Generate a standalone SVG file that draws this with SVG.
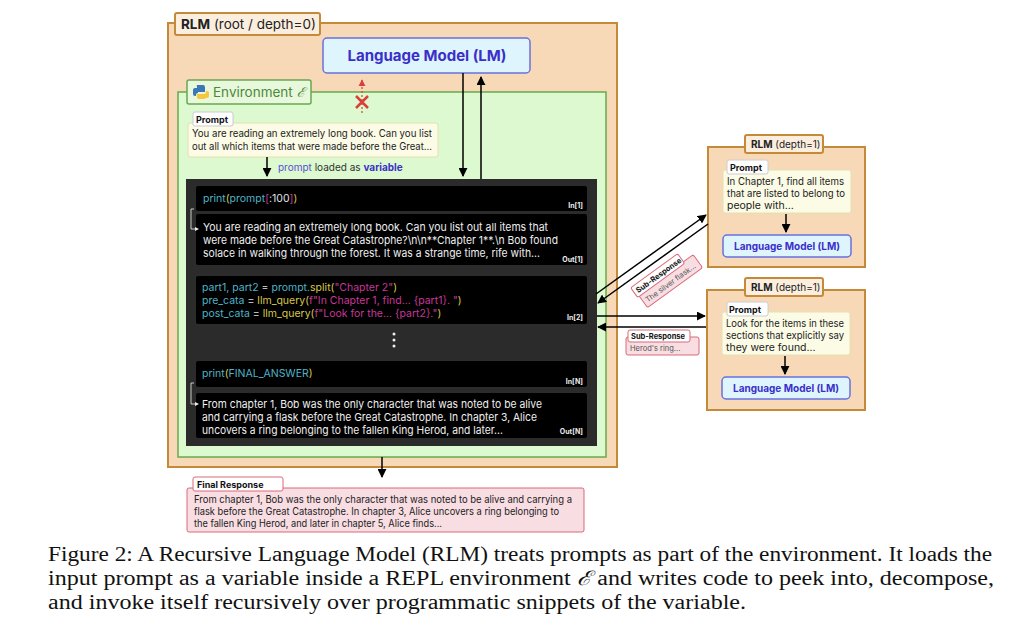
<svg xmlns="http://www.w3.org/2000/svg" width="1024" height="637" viewBox="0 0 1024 637">
<defs>
<marker id="ah" viewBox="0 0 10 10" refX="9" refY="5" markerWidth="6" markerHeight="6" orient="auto-start-reverse"><path d="M0,0 L10,5 L0,10 z" fill="#000"/></marker>
<marker id="ahr" viewBox="0 0 10 10" refX="9" refY="5" markerWidth="6" markerHeight="6" orient="auto"><path d="M0,0 L10,5 L0,10 z" fill="#d9403a"/></marker>
</defs>
<style>
text{font-family:Inter,"Liberation Sans",sans-serif}
.rlm{fill:#f7d9b7;stroke:#c48a3a;stroke-width:2}
.tab{fill:#fbeede;stroke:#c48a3a;stroke-width:2}
.lm{fill:#dff5fd;stroke:#6a6fe0;stroke-width:1.5}
.lmt{fill:#3b2fc9;font-weight:bold;text-anchor:middle}
.pr{fill:#fbfbe6;stroke:#e4e0b0;stroke-width:1}
.ptab{fill:#fff;stroke:#ccc;stroke-width:1}
.b{font-weight:bold;fill:#111}
.t{fill:#222;font-size:10.5px}
.cell{fill:#000}
.w{fill:#eee;font-size:11px}
.lbl{fill:#eee;font-size:7px;font-weight:bold;text-anchor:end}
.code{font-size:10.5px}
.c1{fill:#4fb3c8}.c2{fill:#d8c74a}.c3{fill:#c8379a}.c4{fill:#e0e0e0}
.pk{fill:#f8dde2;stroke:#d96a78;stroke-width:1}
.line{stroke:#000;stroke-width:1.5;fill:none}
.cap{font-family:"Liberation Serif",serif;font-size:20px;fill:#111}
</style>
<g id="root">
<rect class="rlm" x="168" y="23" width="449" height="444"/>
<rect class="tab" x="175" y="13" width="145" height="22" rx="2"/>
<text x="181" y="29" font-size="13.5" fill="#222"><tspan font-weight="bold">RLM</tspan> (root / depth=0)</text>
</g>
<g id="lm-root">
<rect class="lm" x="323" y="38" width="207" height="35" rx="4"/>
<text class="lmt" x="427" y="61" font-size="15">Language Model (LM)</text>
</g>
<g id="environment">
<rect x="178" y="92" width="428" height="365" fill="#dcf9cf" stroke="#6aa84f" stroke-width="1.5"/>
<rect x="187" y="80" width="124" height="24" fill="#e8f8dd" stroke="#6aa84f" stroke-width="1.5" rx="2"/>
<g transform="translate(193,84)">
<path d="M4,1 h6 a2,2 0 0 1 2,2 v5 h-7 v1 h-0 a2,2 0 0 0 -2,2 v1 h-1 a2,2 0 0 1 -2,-2 v-4 a2,2 0 0 1 2,-2 h2 v-1 a2,2 0 0 1 0,-2z" fill="#3c78b5"/>
<path d="M12,15 h-6 a2,2 0 0 1 -2,-2 v-3 h7 a2,2 0 0 0 2,-2 v-1 h1 a2,2 0 0 1 2,2 v3 a2,2 0 0 1 -2,2 h-2z" fill="#f5c83a"/>
</g>
<text x="213" y="97" font-size="13.5" fill="#4c8a3a">Environment <tspan font-style="italic" font-family="Liberation Serif,serif">ℰ</tspan></text>
</g>
<g id="prompt">
<rect class="pr" x="188" y="123" width="250" height="34" rx="2"/>
<rect class="ptab" x="193" y="112" width="40" height="14" rx="2"/>
<text class="b" x="196" y="123" font-size="9">Prompt</text>
<text class="t" x="192" y="137" textLength="240" lengthAdjust="spacingAndGlyphs">You are reading an extremely long book. Can you list</text>
<text class="t" x="192" y="150" textLength="240" lengthAdjust="spacingAndGlyphs">out all which items that were made before the Great...</text>
<text x="278" y="171" font-size="10" fill="#333"><tspan fill="#5a4fd6">prompt</tspan> loaded as <tspan fill="#3b2fc9" font-weight="bold">variable</tspan></text>
</g>
<g id="repl">
<rect x="186" y="179" width="411" height="267" fill="#2b2b2b"/>
<rect class="cell" x="196" y="186" width="391" height="25" rx="2"/>
<text class="code" x="203" y="202"><tspan class="c1">print</tspan><tspan class="c2">(</tspan><tspan class="c1">prompt</tspan><tspan class="c3">[</tspan><tspan class="c4">:100</tspan><tspan class="c3">]</tspan><tspan class="c2">)</tspan></text>
<text class="lbl" x="583" y="208">In[1]</text>
<rect class="cell" x="196" y="214" width="391" height="51" rx="2"/>
<text class="w" x="203" y="231" textLength="345" lengthAdjust="spacingAndGlyphs">You are reading an extremely long book. Can you list out all items that</text>
<text class="w" x="203" y="244" textLength="355" lengthAdjust="spacingAndGlyphs">were made before the Great Catastrophe?\n\n**Chapter 1**.\n Bob found</text>
<text class="w" x="203" y="257" textLength="337" lengthAdjust="spacingAndGlyphs">solace in walking through the forest. It was a strange time, rife with...</text>
<text class="lbl" x="583" y="262">Out[1]</text>
<path d="M194,209 h-3 v20 h6" stroke="#ccc" fill="none"/>
<path d="M195,227 l4,2 l-4,2z" fill="#eee"/>
<rect class="cell" x="196" y="276" width="391" height="48" rx="2"/>
<text class="code" x="202" y="291"><tspan class="c1">part1, part2 </tspan><tspan class="c4">= </tspan><tspan class="c1">prompt.</tspan><tspan class="c2">split(</tspan><tspan class="c3">"Chapter 2"</tspan><tspan class="c2">)</tspan></text>
<text class="code" x="202" y="304"><tspan class="c1">pre_cata </tspan><tspan class="c4">= </tspan><tspan class="c2">llm_query(</tspan><tspan class="c3">f"In Chapter 1, find... {part1}. "</tspan><tspan class="c2">)</tspan></text>
<text class="code" x="202" y="317"><tspan class="c1">post_cata </tspan><tspan class="c4">= </tspan><tspan class="c2">llm_query(</tspan><tspan class="c3">f"Look for the... {part2}."</tspan><tspan class="c2">)</tspan></text>
<text class="lbl" x="583" y="320">In[2]</text>
<circle cx="394" cy="334" r="1.5" fill="#eee"/><circle cx="394" cy="340" r="1.5" fill="#eee"/><circle cx="394" cy="346" r="1.5" fill="#eee"/>
<rect class="cell" x="196" y="361" width="391" height="26" rx="2"/>
<text class="code" x="202" y="377"><tspan class="c1">print</tspan><tspan class="c2">(</tspan><tspan class="c1">FINAL_ANSWER</tspan><tspan class="c2">)</tspan></text>
<text class="lbl" x="583" y="384">In[N]</text>
<rect class="cell" x="196" y="393" width="391" height="45" rx="2"/>
<text class="w" x="202" y="408" textLength="340" lengthAdjust="spacingAndGlyphs">From chapter 1, Bob was the only character that was noted to be alive</text>
<text class="w" x="202" y="421" textLength="335" lengthAdjust="spacingAndGlyphs">and carrying a flask before the Great Catastrophe. In chapter 3, Alice</text>
<text class="w" x="202" y="434" textLength="301" lengthAdjust="spacingAndGlyphs">uncovers a ring belonging to the fallen King Herod, and later...</text>
<text class="lbl" x="583" y="434">Out[N]</text>
<path d="M194,383 h-3 v21 h6" stroke="#ccc" fill="none"/>
<path d="M195,402 l4,2 l-4,2z" fill="#eee"/>
</g>
<g id="rlm1">
<rect class="rlm" x="708" y="147" width="157" height="120"/>
<rect class="tab" x="745" y="135" width="78" height="18" rx="2"/>
<text x="751" y="148" font-size="10" fill="#222"><tspan font-weight="bold">RLM</tspan> (depth=1)</text>
<rect class="pr" x="723" y="170" width="128" height="43" rx="2"/>
<rect class="ptab" x="727" y="160" width="41" height="14" rx="2"/>
<text class="b" x="730" y="171" font-size="9">Prompt</text>
<text class="t" x="727" y="185" font-size="10" textLength="117" lengthAdjust="spacingAndGlyphs">In Chapter 1, find all items</text>
<text class="t" x="727" y="197" font-size="10" textLength="118" lengthAdjust="spacingAndGlyphs">that are listed to belong to</text>
<text class="t" x="727" y="209" font-size="10">people with...</text>
<rect class="lm" x="723" y="235" width="128" height="22" rx="4"/>
<text class="lmt" x="787" y="250" font-size="10">Language Model (LM)</text>
</g>
<g id="rlm2">
<rect class="rlm" x="707" y="290" width="158" height="120"/>
<rect class="tab" x="745" y="278" width="78" height="18" rx="2"/>
<text x="751" y="291" font-size="10" fill="#222"><tspan font-weight="bold">RLM</tspan> (depth=1)</text>
<rect class="pr" x="722" y="312" width="128" height="43" rx="2"/>
<rect class="ptab" x="727" y="302" width="41" height="14" rx="2"/>
<text class="b" x="729" y="313" font-size="9">Prompt</text>
<text class="t" x="726" y="327" font-size="10" textLength="118" lengthAdjust="spacingAndGlyphs">Look for the items in these</text>
<text class="t" x="726" y="339" font-size="10" textLength="118" lengthAdjust="spacingAndGlyphs">sections that explicitly say</text>
<text class="t" x="726" y="351" font-size="10">they were found...</text>
<rect class="lm" x="722" y="377" width="128" height="22" rx="4"/>
<text class="lmt" x="786" y="392" font-size="10">Language Model (LM)</text>
</g>
<g id="final">
<rect class="pk" x="187" y="488" width="397" height="44" rx="2"/>
<rect x="193" y="477" width="90" height="14" rx="2" fill="#fff" stroke="#d96a78"/>
<text class="b" x="197" y="488" font-size="9">Final Response</text>
<text class="t" x="194" y="503" font-size="9.5" textLength="378" lengthAdjust="spacingAndGlyphs">From chapter 1, Bob was the only character that was noted to be alive and carrying a</text>
<text class="t" x="194" y="515" font-size="9.5" textLength="365" lengthAdjust="spacingAndGlyphs">flask before the Great Catastrophe. In chapter 3, Alice uncovers a ring belonging to</text>
<text class="t" x="194" y="527" font-size="9.5" textLength="248" lengthAdjust="spacingAndGlyphs">the fallen King Herod, and later in chapter 5, Alice finds...</text>
</g>
<g id="sub1" transform="translate(633,291) rotate(-36)">
<rect class="pk" x="2" y="6" width="68" height="16" rx="2"/>
<rect x="0" y="-4" width="58" height="12" rx="2" fill="#fff" stroke="#d96a78"/>
<text class="b" x="3" y="5" font-size="7.5">Sub-Response</text>
<text x="5" y="18" font-size="7.5" fill="#555">The silver flask...</text>
</g>
<g id="sub2">
<rect class="pk" x="626" y="337" width="73" height="18" rx="2"/>
<rect x="628" y="330" width="62" height="12" rx="2" fill="#fff" stroke="#d96a78"/>
<text class="b" x="631" y="339" font-size="7.5">Sub-Response</text>
<text x="630" y="351" font-size="7.5" fill="#555">Herod's ring...</text>
</g>
<g id="connectors">
<line class="line" x1="463" y1="73" x2="463" y2="176" marker-end="url(#ah)"/>
<line class="line" x1="481" y1="179" x2="481" y2="77" marker-end="url(#ah)"/>
<line x1="362" y1="113" x2="362" y2="80" stroke="#d9403a" stroke-width="1.2" stroke-dasharray="2,2" marker-end="url(#ahr)"/>
<path d="M356,96 l12,12 M368,96 l-12,12" stroke="#d9403a" stroke-width="2.5"/>
<line class="line" x1="267" y1="157" x2="267" y2="176" marker-end="url(#ah)"/>
<line class="line" x1="596" y1="294" x2="706" y2="215" marker-end="url(#ah)"/>
<line class="line" x1="708" y1="224" x2="598" y2="303" marker-end="url(#ah)"/>
<line class="line" x1="597" y1="316" x2="705" y2="316" marker-end="url(#ah)"/>
<line class="line" x1="706" y1="327" x2="598" y2="327" marker-end="url(#ah)"/>
<line class="line" x1="786" y1="214" x2="786" y2="232" marker-end="url(#ah)"/>
<line class="line" x1="785" y1="356" x2="785" y2="374" marker-end="url(#ah)"/>
<line class="line" x1="382" y1="457" x2="382" y2="477" marker-end="url(#ah)"/>
</g>
<g id="caption">
<text class="cap" x="48" y="561" textLength="944" lengthAdjust="spacingAndGlyphs">Figure 2: A Recursive Language Model (RLM) treats prompts as part of the environment. It loads the</text>
<text class="cap" x="48" y="585" textLength="946" lengthAdjust="spacingAndGlyphs">input prompt as a variable inside a REPL environment <tspan font-style="italic">ℰ</tspan> and writes code to peek into, decompose,</text>
<text class="cap" x="48" y="609" textLength="698" lengthAdjust="spacingAndGlyphs">and invoke itself recursively over programmatic snippets of the variable.</text>
</g>
</svg>
